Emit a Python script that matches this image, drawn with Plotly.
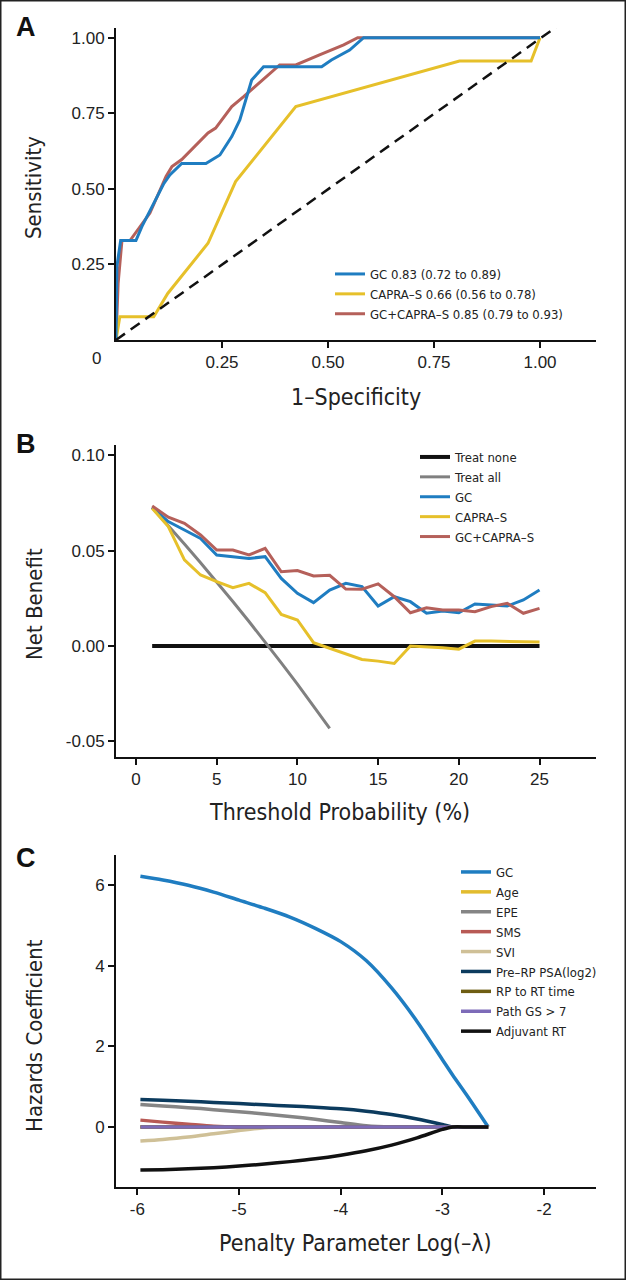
import plotly.graph_objects as go

# ---------------- Panel A: ROC curves ----------------
gc_fpr = [0, 0.002, 0.011, 0.047, 0.061, 0.113, 0.127, 0.155, 0.212, 0.245, 0.273, 0.292, 0.320, 0.348, 0.485, 0.508, 0.551, 0.584, 1.0]
gc_tpr = [0, 0.243, 0.329, 0.329, 0.375, 0.518, 0.546, 0.584, 0.584, 0.612, 0.673, 0.728, 0.860, 0.904, 0.904, 0.926, 0.959, 1.0, 1.0]
capra_fpr = [0, 0.009, 0.089, 0.122, 0.217, 0.282, 0.424, 0.810, 0.979, 1.0]
capra_tpr = [0, 0.077, 0.077, 0.154, 0.320, 0.524, 0.772, 0.923, 0.923, 1.0]
comb_fpr = [0, 0.005, 0.014, 0.033, 0.080, 0.118, 0.132, 0.155, 0.217, 0.235, 0.273, 0.301, 0.386, 0.424, 0.480, 0.537, 0.570, 1.0]
comb_tpr = [0, 0.187, 0.329, 0.329, 0.420, 0.541, 0.574, 0.597, 0.685, 0.701, 0.772, 0.805, 0.910, 0.910, 0.943, 0.976, 1.0, 1.0]
diag_x = [0, 1.045]
diag_y = [0, 1.042]
roc_names = ["GC 0.83 (0.72 to 0.89)", "CAPRA\u2013S 0.66 (0.56 to 0.78)", "GC+CAPRA\u2013S 0.85 (0.79 to 0.93)"]

# ---------------- Panel B: decision curves ----------------
thresh = list(range(1, 26))
thresh_all = list(range(1, 13))
nb_none = [0.0] * 25
nb_all = [0.0727, 0.0633, 0.0536, 0.0437, 0.0337, 0.0234, 0.0129, 0.0022, -0.0088, -0.0200, -0.0315, -0.0432]
nb_gc = [0.0728, 0.0653, 0.0609, 0.0565, 0.0478, 0.0469, 0.0460, 0.0469, 0.0355, 0.0277, 0.0228, 0.0294, 0.0329,
         0.0312, 0.0210, 0.0259, 0.0233, 0.0172, 0.0184, 0.0175, 0.0221, 0.0215, 0.0210, 0.0242, 0.0294]
nb_capra = [0.0723, 0.0627, 0.0452, 0.0373, 0.0338, 0.0306, 0.0329, 0.0280, 0.0166, 0.0137, 0.0018, -0.0012, -0.0039,
            -0.0070, -0.0079, -0.0091, 0.0000, -0.0004, -0.0009, -0.0016, 0.0026, 0.0026, 0.0025, 0.0023, 0.0021]
nb_comb = [0.0735, 0.0676, 0.0644, 0.0583, 0.0504, 0.0504, 0.0478, 0.0513, 0.0390, 0.0396, 0.0368, 0.0371, 0.0299,
           0.0298, 0.0326, 0.0259, 0.0175, 0.0201, 0.0189, 0.0189, 0.0180, 0.0207, 0.0224, 0.0172, 0.0198]
dca_names = ["Treat none", "Treat all", "GC", "CAPRA\u2013S", "GC+CAPRA\u2013S"]

# ---------------- Panel C: lasso coefficient paths ----------------
log_lambda = [-5.97, -5.75, -5.5, -5.25, -5.0, -4.75, -4.5, -4.25, -4.0, -3.75, -3.5, -3.25, -3.0, -2.9, -2.75, -2.55]
coef_gc = [6.22, 6.13, 6.00, 5.83, 5.63, 5.43, 5.21, 4.93, 4.60, 4.13, 3.45, 2.62, 1.67, 1.29, 0.75, 0.0]
coef_age = [0.0] * 16
coef_epe = [0.56, 0.52, 0.48, 0.43, 0.38, 0.32, 0.26, 0.19, 0.11, 0.03, 0.0, 0.0, 0.0, 0.0, 0.0, 0.0]
coef_sms = [0.17, 0.12, 0.07, 0.02, 0.0, 0.0, 0.0, 0.0, 0.0, 0.0, 0.0, 0.0, 0.0, 0.0, 0.0, 0.0]
coef_svi = [-0.35, -0.31, -0.25, -0.17, -0.09, -0.02, 0.0, 0.0, 0.0, 0.0, 0.0, 0.0, 0.0, 0.0, 0.0, 0.0]
coef_psa = [0.68, 0.66, 0.64, 0.61, 0.58, 0.55, 0.52, 0.49, 0.45, 0.39, 0.31, 0.20, 0.06, 0.0, 0.0, 0.0]
coef_rprt = [0.0] * 16
coef_gs = [0.0] * 16
coef_adj = [-1.07, -1.06, -1.04, -1.01, -0.97, -0.92, -0.86, -0.79, -0.70, -0.59, -0.45, -0.27, -0.06, 0.0, 0.0, 0.0]
coef_names = ["GC", "Age", "EPE", "SMS", "SVI", "Pre\u2013RP PSA(log2)", "RP to RT time", "Path GS > 7", "Adjuvant RT"]

BLUE = "#1f7dc1"
YELLOW = "#e6c02a"
RED = "#b5605a"

W, H = 626, 1280
NARROW = "DejaVu Sans Condensed, Liberation Sans Narrow, sans-serif"
REG = "Liberation Sans, Arial, sans-serif"

def px_x(p):
    return p / W

def px_y(p):
    return 1 - p / H

fig = go.Figure()

# Panel A traces
fig.add_trace(go.Scatter(x=comb_fpr, y=comb_tpr, mode="lines", name=roc_names[2], legend="legend", legendrank=3,
                         line=dict(color=RED, width=3), xaxis="x", yaxis="y"))
fig.add_trace(go.Scatter(x=capra_fpr, y=capra_tpr, mode="lines", name=roc_names[1], legend="legend", legendrank=2,
                         line=dict(color=YELLOW, width=3), xaxis="x", yaxis="y"))
fig.add_trace(go.Scatter(x=gc_fpr, y=gc_tpr, mode="lines", name=roc_names[0], legend="legend", legendrank=1,
                         line=dict(color=BLUE, width=3), xaxis="x", yaxis="y"))
fig.add_trace(go.Scatter(x=diag_x, y=diag_y, mode="lines", showlegend=False,
                         line=dict(color="#111111", width=2.5, dash="11px,7px"), xaxis="x", yaxis="y"))

# Panel B traces
fig.add_trace(go.Scatter(x=thresh, y=nb_none, mode="lines", name=dca_names[0], legend="legend2",
                         line=dict(color="#111111", width=4), xaxis="x2", yaxis="y2"))
fig.add_trace(go.Scatter(x=thresh_all, y=nb_all, mode="lines", name=dca_names[1], legend="legend2",
                         line=dict(color="#808080", width=3), xaxis="x2", yaxis="y2"))
fig.add_trace(go.Scatter(x=thresh, y=nb_gc, mode="lines", name=dca_names[2], legend="legend2",
                         line=dict(color=BLUE, width=3), xaxis="x2", yaxis="y2"))
fig.add_trace(go.Scatter(x=thresh, y=nb_capra, mode="lines", name=dca_names[3], legend="legend2",
                         line=dict(color=YELLOW, width=3), xaxis="x2", yaxis="y2"))
fig.add_trace(go.Scatter(x=thresh, y=nb_comb, mode="lines", name=dca_names[4], legend="legend2",
                         line=dict(color=RED, width=3), xaxis="x2", yaxis="y2"))

# Panel C traces
c_series = [coef_gc, coef_age, coef_epe, coef_sms, coef_svi, coef_psa, coef_rprt, coef_gs, coef_adj]
c_colors = [BLUE, "#e2bc2e", "#858585", "#b85a55", "#cfc097", "#0c3b5e", "#6e5d12", "#7d6bb8", "#111111"]
for name, vals, col in zip(coef_names, c_series, c_colors):
    fig.add_trace(go.Scatter(x=log_lambda, y=vals, mode="lines", name=name, legend="legend3",
                             line=dict(color=col, width=3.5, shape="spline", smoothing=0.8),
                             xaxis="x3", yaxis="y3"))

xdom = [px_x(116), px_x(596)]
axis_common = dict(showline=True, linecolor="#111111", linewidth=2, ticks="outside", ticklen=6,
                   tickwidth=1.5, tickcolor="#111111", showgrid=False, zeroline=False,
                   tickfont=dict(family=REG, size=17, color="#222222"))

leg_common = dict(font=dict(family=NARROW, size=13, color="#222222"), bgcolor="rgba(0,0,0,0)",
                  borderwidth=0, itemwidth=30, tracegroupgap=0, xanchor="left", yanchor="top",
                  orientation="v")

fig.update_layout(
    width=W, height=H,
    margin=dict(l=0, r=0, t=0, b=0),
    paper_bgcolor="white", plot_bgcolor="white",
    showlegend=True,
    xaxis=dict(domain=xdom, range=[0, 1.132], anchor="y", tickvals=[0.25, 0.5, 0.75, 1.0],
               ticktext=["0.25", "0.50", "0.75", "1.00"], **axis_common),
    yaxis=dict(domain=[px_y(340), px_y(28)], range=[0, 1.032], anchor="x", tickvals=[0.25, 0.5, 0.75, 1.0],
               ticktext=["0.25", "0.50", "0.75", "1.00"], **axis_common),
    xaxis2=dict(domain=xdom, range=[-1.24, 28.5], anchor="y2", tickvals=[0, 5, 10, 15, 20, 25],
                ticktext=["0", "5", "10", "15", "20", "25"], **axis_common),
    yaxis2=dict(domain=[px_y(757), px_y(445)], range=[-0.0582, 0.1055], anchor="x2",
                tickvals=[-0.05, 0, 0.05, 0.10], ticktext=["-0.05", "0.00", "0.05", "0.10"], **axis_common),
    xaxis3=dict(domain=xdom, range=[-6.21, -1.49], anchor="y3", tickvals=[-6, -5, -4, -3, -2],
                ticktext=["-6", "-5", "-4", "-3", "-2"], **axis_common),
    yaxis3=dict(domain=[px_y(1187), px_y(855)], range=[-1.49, 6.75], anchor="x3",
                tickvals=[0, 2, 4, 6], ticktext=["0", "2", "4", "6"], **axis_common),
    legend=dict(x=px_x(330), y=px_y(259), **leg_common),
    legend2=dict(x=px_x(415), y=px_y(442), **leg_common),
    legend3=dict(x=px_x(456), y=px_y(857), **leg_common),
)

annos = []
for letter, (ax, ay) in zip(["A", "B", "C"], [(26, 27), (26, 444), (26, 858)]):
    annos.append(dict(text="<b>%s</b>" % letter, x=px_x(ax), y=px_y(ay), xref="paper", yref="paper",
                      showarrow=False, xanchor="center", yanchor="middle",
                      font=dict(family="Liberation Sans, Arial, sans-serif", size=27, color="#111111")))
annos.append(dict(text="0", x=px_x(97), y=px_y(358), xref="paper", yref="paper", showarrow=False,
                  xanchor="center", yanchor="middle", font=dict(family=REG, size=17, color="#222222")))
xt = [("1\u2013Specificity", 356, 397), ("Threshold Probability (%)", 340, 812),
      ("Penalty Parameter Log(\u2013\u03bb)", 356, 1243)]
for t, ax, ay in xt:
    annos.append(dict(text=t, x=px_x(ax), y=px_y(ay), xref="paper", yref="paper", showarrow=False,
                      xanchor="center", yanchor="middle", font=dict(family=NARROW, size=23, color="#222222")))
yt = [("Sensitivity", 34, 188), ("Net Benefit", 34, 604), ("Hazards Coefficient", 34, 1036)]
for t, ax, ay in yt:
    annos.append(dict(text=t, x=px_x(ax), y=px_y(ay), xref="paper", yref="paper", showarrow=False,
                      textangle=-90, xanchor="center", yanchor="middle",
                      font=dict(family=NARROW, size=22, color="#222222")))
fig.update_layout(annotations=annos)

fig.add_shape(type="rect", xref="paper", yref="paper", x0=0, y0=0, x1=1, y1=1,
              line=dict(color="#222222", width=3), fillcolor="rgba(0,0,0,0)", layer="above")

fig.write_html("out.html", config={"displayModeBar": False},
               post_script="document.body.style.margin='0px';document.body.style.padding='0px';"
                           "document.body.style.overflow='hidden';")
